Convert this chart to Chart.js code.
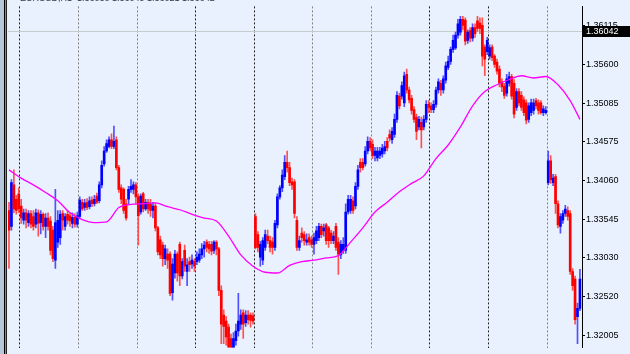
<!DOCTYPE html>
<html lang="en">
<head>
<meta charset="UTF-8">
<title>EURUSD,H1</title>
<script src="https://cdn.jsdelivr.net/npm/chart.js"></script>
<style>
  html, body {margin: 0; padding: 0; background: #e8f1fd; overflow: hidden;}
  #wrap {width: 630px; height: 354px;}
</style>
</head>
<body>
<div id="wrap"><canvas id="chart" width="630" height="354"></canvas></div>
<script>
// hourly candles, oldest first
const opens = [
  1.3366,1.3345,1.3400,1.3381,1.3388,1.3372,1.3353,1.3363,1.3350,1.3362,
  1.3358,1.3348,1.3363,1.3350,1.3361,1.3345,1.3356,1.3352,1.3340,1.3300,
  1.3324,1.3330,1.3362,1.3345,1.3361,1.3359,1.3349,1.3357,1.3348,1.3358,
  1.3377,1.3370,1.3377,1.3371,1.3380,1.3375,1.3385,1.3379,1.3400,1.3428,
  1.3445,1.3451,1.3460,1.3451,1.3460,1.3423,1.3396,1.3394,1.3375,1.3381,
  1.3394,1.3394,1.3400,1.3384,1.3364,1.3388,1.3368,1.3377,1.3375,1.3366,
  1.3372,1.3343,1.3327,1.3320,1.3302,1.3308,1.3308,1.3257,1.3283,1.3308,
  1.3321,1.3279,1.3313,1.3285,1.3298,1.3295,1.3298,1.3298,1.3300,1.3307,
  1.3315,1.3324,1.3321,1.3321,1.3313,1.3324,1.3315,1.3260,1.3227,1.3219,
  1.3211,1.3196,1.3181,1.3193,1.3206,1.3215,1.3230,1.3217,1.3227,1.3227,
  1.3226,1.3358,1.3334,1.3304,1.3300,1.3317,1.3332,1.3326,1.3324,1.3317,
  1.3347,1.3384,1.3396,1.3411,1.3430,1.3423,1.3404,1.3404,1.3353,1.3317,
  1.3336,1.3334,1.3324,1.3330,1.3327,1.3321,1.3326,1.3330,1.3345,1.3339,
  1.3347,1.3343,1.3336,1.3326,1.3345,1.3324,1.3307,1.3313,1.3313,1.3364,
  1.3366,1.3379,1.3372,1.3398,1.3430,1.3430,1.3428,1.3445,1.3458,1.3454,
  1.3439,1.3436,1.3439,1.3441,1.3445,1.3458,1.3467,1.3460,1.3467,1.3487,
  1.3518,1.3518,1.3509,1.3547,1.3526,1.3515,1.3500,1.3490,1.3477,1.3483,
  1.3477,1.3487,1.3507,1.3505,1.3500,1.3507,1.3526,1.3535,1.3526,1.3539,
  1.3556,1.3564,1.3580,1.3582,1.3599,1.3603,1.3620,1.3619,1.3592,1.3605,
  1.3595,1.3609,1.3618,1.3615,1.3612,1.3583,1.3577,1.3571,1.3583,1.3571,
  1.3563,1.3554,1.3537,1.3531,1.3522,1.3535,1.3544,1.3535,1.3503,1.3524,
  1.3519,1.3513,1.3509,1.3487,1.3496,1.3499,1.3512,1.3509,1.3509,1.3496,
  1.3496,1.3403,1.3432,1.3403,1.3411,1.3375,1.3345,1.3353,1.3362,1.3366,
  1.3362,1.3285,1.3275,1.3225,1.3236
];
const highs = [
  1.3377,1.3407,1.3420,1.3386,1.3396,1.3381,1.3368,1.3368,1.3366,1.3366,
  1.3366,1.3368,1.3367,1.3366,1.3363,1.3362,1.3363,1.3358,1.3345,1.3394,
  1.3366,1.3366,1.3366,1.3362,1.3366,1.3363,1.3363,1.3362,1.3364,1.3384,
  1.3381,1.3381,1.3382,1.3384,1.3384,1.3386,1.3389,1.3404,1.3432,1.3451,
  1.3460,1.3464,1.3468,1.3478,1.3464,1.3426,1.3400,1.3396,1.3381,1.3398,
  1.3407,1.3404,1.3403,1.3388,1.3388,1.3390,1.3381,1.3381,1.3381,1.3377,
  1.3376,1.3345,1.3332,1.3324,1.3320,1.3315,1.3311,1.3302,1.3313,1.3311,
  1.3324,1.3302,1.3320,1.3302,1.3304,1.3307,1.3302,1.3311,1.3315,1.3322,
  1.3325,1.3327,1.3325,1.3325,1.3326,1.3326,1.3317,1.3266,1.3234,1.3225,
  1.3215,1.3202,1.3204,1.3215,1.3256,1.3234,1.3234,1.3233,1.3233,1.3230,
  1.3230,1.3362,1.3338,1.3325,1.3330,1.3340,1.3340,1.3332,1.3330,1.3353,
  1.3388,1.3399,1.3420,1.3439,1.3445,1.3430,1.3409,1.3407,1.3358,1.3332,
  1.3343,1.3338,1.3335,1.3335,1.3332,1.3336,1.3345,1.3349,1.3348,1.3348,
  1.3349,1.3345,1.3340,1.3338,1.3349,1.3330,1.3326,1.3330,1.3375,1.3386,
  1.3386,1.3384,1.3403,1.3426,1.3435,1.3435,1.3451,1.3464,1.3463,1.3460,
  1.3450,1.3450,1.3450,1.3454,1.3458,1.3463,1.3473,1.3476,1.3494,1.3524,
  1.3522,1.3537,1.3550,1.3554,1.3530,1.3519,1.3504,1.3494,1.3491,1.3490,
  1.3492,1.3512,1.3512,1.3509,1.3512,1.3530,1.3541,1.3539,1.3545,1.3563,
  1.3571,1.3583,1.3599,1.3603,1.3620,1.3624,1.3624,1.3622,1.3606,1.3609,
  1.3614,1.3614,1.3624,1.3622,1.3622,1.3586,1.3596,1.3586,1.3586,1.3573,
  1.3567,1.3558,1.3541,1.3535,1.3547,1.3550,1.3547,1.3540,1.3528,1.3528,
  1.3524,1.3517,1.3513,1.3509,1.3514,1.3514,1.3515,1.3513,1.3512,1.3505,
  1.3504,1.3445,1.3439,1.3414,1.3414,1.3379,1.3362,1.3366,1.3373,1.3371,
  1.3366,1.3289,1.3279,1.3243,1.3288
];
const lows = [
  1.3289,1.3340,1.3363,1.3361,1.3363,1.3349,1.3348,1.3343,1.3345,1.3343,
  1.3340,1.3343,1.3332,1.3335,1.3340,1.3330,1.3340,1.3307,1.3298,1.3289,
  1.3317,1.3321,1.3340,1.3340,1.3348,1.3345,1.3343,1.3344,1.3344,1.3356,
  1.3366,1.3366,1.3367,1.3368,1.3371,1.3372,1.3375,1.3376,1.3396,1.3425,
  1.3443,1.3449,1.3448,1.3448,1.3420,1.3390,1.3375,1.3362,1.3353,1.3375,
  1.3390,1.3388,1.3375,1.3320,1.3361,1.3364,1.3366,1.3362,1.3358,1.3356,
  1.3339,1.3307,1.3302,1.3292,1.3294,1.3289,1.3253,1.3247,1.3276,1.3272,
  1.3266,1.3275,1.3285,1.3266,1.3285,1.3289,1.3285,1.3294,1.3297,1.3302,
  1.3304,1.3311,1.3309,1.3307,1.3309,1.3307,1.3253,1.3189,1.3189,1.3187,
  1.3176,1.3174,1.3174,1.3187,1.3199,1.3208,1.3196,1.3212,1.3215,1.3211,
  1.3215,1.3315,1.3311,1.3292,1.3294,1.3313,1.3322,1.3311,1.3308,1.3313,
  1.3343,1.3381,1.3391,1.3407,1.3417,1.3399,1.3394,1.3356,1.3313,1.3313,
  1.3324,1.3320,1.3320,1.3320,1.3317,1.3308,1.3322,1.3326,1.3330,1.3332,
  1.3321,1.3317,1.3322,1.3322,1.3313,1.3281,1.3302,1.3309,1.3309,1.3361,
  1.3362,1.3362,1.3368,1.3394,1.3417,1.3420,1.3425,1.3441,1.3445,1.3435,
  1.3432,1.3432,1.3435,1.3437,1.3441,1.3445,1.3458,1.3455,1.3463,1.3483,
  1.3501,1.3514,1.3504,1.3522,1.3509,1.3494,1.3483,1.3460,1.3473,1.3449,
  1.3473,1.3483,1.3496,1.3496,1.3496,1.3503,1.3522,1.3519,1.3522,1.3535,
  1.3553,1.3560,1.3576,1.3580,1.3595,1.3599,1.3606,1.3586,1.3588,1.3590,
  1.3591,1.3596,1.3604,1.3601,1.3558,1.3545,1.3573,1.3567,1.3565,1.3556,
  1.3547,1.3530,1.3524,1.3515,1.3518,1.3531,1.3514,1.3489,1.3499,1.3505,
  1.3499,1.3492,1.3481,1.3483,1.3492,1.3494,1.3501,1.3494,1.3494,1.3492,
  1.3494,1.3400,1.3402,1.3399,1.3362,1.3343,1.3336,1.3349,1.3358,1.3353,
  1.3281,1.3260,1.3215,1.3189,1.3233
];
const closes = [
  1.3340,1.3403,1.3368,1.3366,1.3368,1.3356,1.3363,1.3353,1.3362,1.3348,
  1.3345,1.3363,1.3349,1.3361,1.3345,1.3356,1.3345,1.3313,1.3302,1.3350,
  1.3353,1.3361,1.3353,1.3358,1.3353,1.3352,1.3357,1.3348,1.3359,1.3380,
  1.3368,1.3376,1.3370,1.3379,1.3375,1.3381,1.3377,1.3400,1.3426,1.3445,
  1.3455,1.3460,1.3451,1.3458,1.3423,1.3394,1.3381,1.3366,1.3356,1.3394,
  1.3398,1.3400,1.3384,1.3359,1.3385,1.3368,1.3377,1.3368,1.3366,1.3372,
  1.3343,1.3311,1.3307,1.3302,1.3315,1.3300,1.3256,1.3295,1.3308,1.3283,
  1.3279,1.3298,1.3292,1.3294,1.3294,1.3300,1.3292,1.3304,1.3308,1.3315,
  1.3320,1.3317,1.3315,1.3312,1.3324,1.3315,1.3260,1.3215,1.3212,1.3198,
  1.3184,1.3181,1.3196,1.3206,1.3219,1.3227,1.3215,1.3227,1.3221,1.3220,
  1.3219,1.3317,1.3317,1.3321,1.3326,1.3334,1.3326,1.3317,1.3317,1.3349,
  1.3384,1.3396,1.3413,1.3430,1.3423,1.3403,1.3400,1.3362,1.3317,1.3326,
  1.3330,1.3326,1.3327,1.3324,1.3321,1.3330,1.3339,1.3345,1.3334,1.3343,
  1.3326,1.3326,1.3326,1.3332,1.3317,1.3308,1.3321,1.3321,1.3364,1.3381,
  1.3381,1.3366,1.3398,1.3420,1.3423,1.3423,1.3445,1.3458,1.3449,1.3439,
  1.3445,1.3445,1.3445,1.3449,1.3451,1.3449,1.3462,1.3471,1.3487,1.3519,
  1.3505,1.3532,1.3545,1.3526,1.3513,1.3499,1.3487,1.3471,1.3487,1.3473,
  1.3487,1.3507,1.3503,1.3500,1.3507,1.3526,1.3537,1.3526,1.3541,1.3558,
  1.3564,1.3580,1.3592,1.3599,1.3614,1.3620,1.3612,1.3591,1.3603,1.3595,
  1.3609,1.3601,1.3608,1.3608,1.3571,1.3567,1.3592,1.3582,1.3569,1.3560,
  1.3551,1.3535,1.3530,1.3519,1.3541,1.3544,1.3518,1.3494,1.3524,1.3509,
  1.3503,1.3496,1.3486,1.3505,1.3509,1.3509,1.3505,1.3499,1.3496,1.3501,
  1.3499,1.3432,1.3407,1.3409,1.3375,1.3347,1.3358,1.3362,1.3368,1.3358,
  1.3285,1.3266,1.3221,1.3236,1.3275
];

// moving average, sampled at these bar numbers
const maBars = [0,5,10,15,20,25,30,35,40,45,50,55,60,65,70,75,80,85,90,95,
  100,105,110,115,120,125,130,135,140,145,150,155,160,165,170,175,180,185,190,195,
  200,205,210,215,220,225,230,234];
const maValues = [1.3420,1.3409,1.3400,1.3390,1.3379,1.3363,1.3354,1.3350,1.3351,1.3370,
  1.3374,1.3375,1.3376,1.3371,1.3367,1.3361,1.3356,1.3352,1.3332,1.3307,
  1.3292,1.3284,1.3283,1.3293,1.3298,1.3300,1.3303,1.3306,1.3324,1.3343,
  1.3364,1.3377,1.3391,1.3402,1.3412,1.3435,1.3453,1.3477,1.3505,1.3524,
  1.3533,1.3540,1.3545,1.3542,1.3544,1.3533,1.3512,1.3487];

// day separators (between bars) and price axis labels
const daySeps = [4.5, 28.5, 52.5, 76.5, 100.5, 124.5, 148.5, 172.5, 196.5, 220.5];
const sepColors = ['#202020','#808080','#808080','#202020','#202020','#808080','#808080','#202020','#202020','#808080'];
const yTicks = [1.36115, 1.35600, 1.35085, 1.34575, 1.34060, 1.33545, 1.33030, 1.32520, 1.32005];
const yMin = 1.31839, yMax = 1.36371;
const lastPrice = 1.36042;
const header = 'EURUSD,H1  1.36030 1.36049 1.36021 1.36042';

const bg = '#e8f1fd';

const bodies = [], wicks = [], bodyColors = [], wickColors = [];
for (let i = 0; i < opens.length; i++) {
  const up = closes[i] >= opens[i];
  bodies.push({x: i, y: [opens[i], closes[i]]});
  wicks.push({x: i, y: [lows[i], highs[i]]});
  bodyColors.push(up ? '#0000ff' : '#ff0000');
  wickColors.push(up ? '#5050ff' : '#ff5050');
}
const maData = maBars.map((b, k) => ({x: b, y: maValues[k]}));

const frame = {
  id: 'frame',
  beforeDraw(chart) {
    const c = chart.ctx;
    c.save();
    c.fillStyle = bg;
    c.fillRect(0, 0, chart.width, chart.height);
    c.fillStyle = '#b8c8dc';
    c.fillRect(0, 0, 4, chart.height);
    c.fillStyle = '#000';
    c.fillRect(4, 0, 1, chart.height);
    c.fillStyle = '#8a8a8a';
    c.fillRect(5, 0, 1, chart.height);
    c.fillStyle = '#222';
    c.fillRect(6, 0, 1, chart.height);
    c.restore();
  },
  beforeDatasetsDraw(chart) {
    const c = chart.ctx, a = chart.chartArea;
    const y = Math.round(chart.scales.y.getPixelForValue(lastPrice)) + 0.5;
    c.save();
    c.strokeStyle = '#c4cccc';
    c.lineWidth = 1;
    c.beginPath();
    c.moveTo(a.left, y);
    c.lineTo(a.right, y);
    c.stroke();
    c.restore();
  },
  afterDraw(chart) {
    const c = chart.ctx, a = chart.chartArea;
    const y = Math.round(chart.scales.y.getPixelForValue(lastPrice));
    c.save();
    c.fillStyle = '#000';
    c.fillRect(a.right + 1, y - 5, chart.width - a.right - 1, 11);
    c.fillStyle = '#fff';
    c.font = '9px "Liberation Sans"';
    c.textBaseline = 'middle';
    c.fillText(lastPrice.toFixed(5), a.right + 4, y + 0.5);
    c.fillStyle = '#303848';
    c.textBaseline = 'alphabetic';
    c.fillText(header, 20, 1);
    c.restore();
  }
};

new Chart(document.getElementById('chart'), {
  type: 'bar',
  data: {
    datasets: [
      {type: 'line', data: maData, borderColor: '#ff00ff', borderWidth: 1.3,
       pointRadius: 0, tension: 0.4, cubicInterpolationMode: 'monotone', order: 0},
      {data: bodies, backgroundColor: bodyColors, barThickness: 2, minBarLength: 1,
       grouped: false, order: 1},
      {data: wicks, backgroundColor: wickColors, barThickness: 1,
       grouped: false, order: 2}
    ]
  },
  options: {
    responsive: false,
    animation: false,
    devicePixelRatio: 1,
    layout: {padding: {left: 8, top: 0, right: 0, bottom: 0}},
    plugins: {legend: {display: false}, tooltip: {enabled: false}},
    scales: {
      x: {
        type: 'linear', min: -0.41, max: 234.84, offset: false,
        afterBuildTicks: s => { s.ticks = daySeps.map(v => ({value: v})); },
        afterFit: s => { s.height = 0; },
        ticks: {display: false},
        grid: {offset: false, color: ctx => sepColors[ctx.index] || '#808080', lineWidth: 1, drawTicks: false},
        border: {display: false, dash: [2, 2]}
      },
      y: {
        position: 'right', min: yMin, max: yMax,
        afterBuildTicks: s => { s.ticks = yTicks.map(v => ({value: v})); },
        afterFit: s => { s.width = 48; },
        ticks: {color: '#000', font: {family: 'Liberation Sans', size: 9}, padding: 1,
                autoSkip: false, callback: v => v.toFixed(5)},
        grid: {drawOnChartArea: false, drawTicks: true, tickLength: 3, tickColor: '#000'},
        border: {display: true, color: '#000', width: 1}
      }
    }
  },
  plugins: [frame]
});
</script>
</body>
</html>
